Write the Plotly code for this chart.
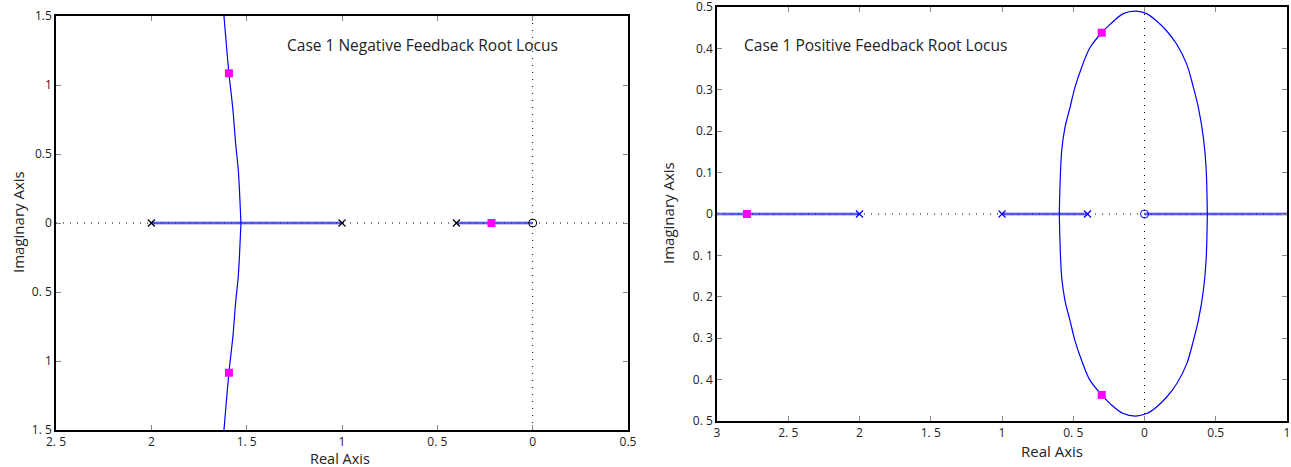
import plotly.graph_objects as go

W, H = 1291, 467

# ---------------- data ----------------
# Negative feedback (left)
neg_poles = [-2.0, -1.0, -0.4]
neg_zeros = [0.0]
neg_real_segments = [(-2.0, -1.0), (-0.4, 0.0)]
neg_upper_x = [-1.530, -1.537, -1.544, -1.558, -1.572, -1.593, -1.619]
neg_upper_y = [0.0, 0.215, 0.384, 0.578, 0.819, 1.085, 1.5]
neg_lower_x = [-1.530, -1.537, -1.544, -1.558, -1.572, -1.593, -1.619]
neg_lower_y = [0.0, -0.215, -0.384, -0.578, -0.819, -1.085, -1.5]
neg_sel_x = [-1.593, -1.593, -0.216]
neg_sel_y = [1.085, -1.085, 0.0]

# Positive feedback (right)
pos_poles = [-2.0, -1.0, -0.4]
pos_zeros = [0.0]
pos_real_segments = [(-3.0, -2.0), (-1.0, -0.4), (0.0, 1.0)]
ell_upper_x = [-0.598, -0.581, -0.558, -0.523, -0.488, -0.441, -0.382, -0.300,
               -0.242, -0.149, -0.060, 0.015, 0.085, 0.156, 0.226, 0.296,
               0.343, 0.378, 0.413, 0.432, 0.441]
ell_upper_y = [0.0, 0.153, 0.209, 0.257, 0.306, 0.354, 0.402, 0.438,
               0.458, 0.484, 0.490, 0.484, 0.466, 0.442, 0.410, 0.362,
               0.306, 0.257, 0.185, 0.113, 0.0]
ell_lower_x = [-0.598, -0.581, -0.558, -0.523, -0.488, -0.441, -0.382, -0.300,
               -0.242, -0.149, -0.060, 0.015, 0.085, 0.156, 0.226, 0.296,
               0.343, 0.378, 0.413, 0.432, 0.441]
ell_lower_y = [0.0, -0.153, -0.209, -0.257, -0.306, -0.354, -0.402, -0.437,
               -0.458, -0.482, -0.488, -0.482, -0.466, -0.442, -0.410, -0.362,
               -0.306, -0.257, -0.185, -0.113, 0.0]
pos_sel_x = [-0.300, -0.300, -2.79]
pos_sel_y = [0.438, -0.437, 0.0]

# tick labels (as printed, minus signs lost)
L_xticks = [-2.5, -2.0, -1.5, -1.0, -0.5, 0.0, 0.5]
L_xlabels = ["2. 5", "2", "1. 5", "1", "0. 5", "0", "0.5"]
L_yticks = [1.5, 1.0, 0.5, 0.0, -0.5, -1.0, -1.5]
L_ylabels = ["1.5", "1", "0.5", "0", "0. 5", "1", "1. 5"]
R_xticks = [-3.0, -2.5, -2.0, -1.5, -1.0, -0.5, 0.0, 0.5, 1.0]
R_xlabels = ["3", "2. 5", "2", "1. 5", "1", "0. 5", "0", "0.5", "1"]
R_yticks = [0.5, 0.4, 0.3, 0.2, 0.1, 0.0, -0.1, -0.2, -0.3, -0.4, -0.5]
R_ylabels = ["0.5", "0.4", "0.3", "0.2", "0.1", "0", "0. 1", "0. 2", "0. 3", "0. 4", "0. 5"]

FONT = "Open Sans"
BLUE = "#0000ff"
MAG = "#ff00ff"

fig = go.Figure()

def add_panel(xa, ya, xrange, yrange, segs, branches, poles, zeros, sel, pz_color):
    # dotted axes
    fig.add_trace(go.Scatter(x=[xrange[0], xrange[1]], y=[0, 0], mode="lines",
                             line=dict(color="black", width=1, dash="1px,6px"),
                             xaxis=xa, yaxis=ya, hoverinfo="skip"))
    fig.add_trace(go.Scatter(x=[0, 0], y=[yrange[0], yrange[1]], mode="lines",
                             line=dict(color="black", width=1, dash="1px,6px"),
                             xaxis=xa, yaxis=ya, hoverinfo="skip"))
    # real-axis locus segments
    for a, b in segs:
        fig.add_trace(go.Scatter(x=[a, b], y=[0, 0], mode="lines",
                                 line=dict(color="rgba(90,90,255,0.45)", width=3.5),
                                 xaxis=xa, yaxis=ya, hoverinfo="skip"))
        fig.add_trace(go.Scatter(x=[a, b], y=[0, 0], mode="lines",
                                 line=dict(color=BLUE, width=1),
                                 xaxis=xa, yaxis=ya, hoverinfo="skip"))
    # complex branches
    for bx, by in branches:
        fig.add_trace(go.Scatter(x=bx, y=by, mode="lines",
                                 line=dict(color=BLUE, width=1.2, shape="spline"),
                                 xaxis=xa, yaxis=ya, hoverinfo="skip"))
    # poles / zeros
    fig.add_trace(go.Scatter(x=poles, y=[0] * len(poles), mode="markers",
                             marker=dict(symbol="x-thin", size=7,
                                         line=dict(color=pz_color, width=1.2)),
                             xaxis=xa, yaxis=ya, hoverinfo="skip"))
    fig.add_trace(go.Scatter(x=zeros, y=[0] * len(zeros), mode="markers",
                             marker=dict(symbol="circle-open", size=8,
                                         color=pz_color, line=dict(color=pz_color, width=1)),
                             xaxis=xa, yaxis=ya, hoverinfo="skip"))
    # selected points
    fig.add_trace(go.Scatter(x=sel[0], y=sel[1], mode="markers",
                             marker=dict(symbol="square", size=8, color=MAG),
                             xaxis=xa, yaxis=ya, hoverinfo="skip"))

add_panel("x", "y", (-2.5, 0.5), (-1.5, 1.5), neg_real_segments,
          [(neg_upper_x, neg_upper_y), (neg_lower_x, neg_lower_y)],
          neg_poles, neg_zeros, (neg_sel_x, neg_sel_y), "black")
add_panel("x2", "y2", (-3, 1), (-0.5, 0.5), pos_real_segments,
          [(ell_upper_x, ell_upper_y), (ell_lower_x, ell_lower_y)],
          pos_poles, pos_zeros, (pos_sel_x, pos_sel_y), BLUE)

axis_common = dict(showgrid=False, zeroline=False, showline=True, linecolor="black",
                   linewidth=1.5, mirror="ticks", ticks="inside", ticklen=5,
                   tickcolor="#888888", tickwidth=1,
                   tickfont=dict(family=FONT, size=12, color="#222222"),
                   ticklabeloverflow="allow", automargin=False)

fig.update_layout(
    width=W, height=H,
    margin=dict(l=0, r=0, t=0, b=0),
    paper_bgcolor="white", plot_bgcolor="white",
    showlegend=False,
    xaxis=dict(domain=[56 / W, 628 / W], range=[-2.5, 0.5], tickvals=L_xticks,
               ticktext=L_xlabels, anchor="y", **axis_common),
    yaxis=dict(domain=[1 - 430 / H, 1 - 16 / H], range=[-1.5, 1.5], tickvals=L_yticks,
               ticktext=L_ylabels, anchor="x", **axis_common),
    xaxis2=dict(domain=[717 / W, 1287 / W], range=[-3, 1], tickvals=R_xticks,
                ticktext=R_xlabels, anchor="y2", **axis_common),
    yaxis2=dict(domain=[1 - 421 / H, 1 - 7 / H], range=[-0.5, 0.5], tickvals=R_yticks,
                ticktext=R_ylabels, anchor="x2", **axis_common),
)

def ann(text, x, y, size=13, angle=0, xanchor="center"):
    fig.add_annotation(text=text, x=x / W, y=1 - y / H, xref="paper", yref="paper",
                       showarrow=False, textangle=angle, xanchor=xanchor, yanchor="middle",
                       font=dict(family=FONT, size=size, color="#222222"))

ann("Imaginary Axis", 18, 222, size=15, angle=-90)
ann("Real Axis", 340, 458, size=14.5)
ann("Imaginary Axis", 668, 213, size=15, angle=-90)
ann("Real Axis", 1052, 451, size=15)
ann("Case 1 Negative Feedback Root Locus", 285, 45, size=15.5, xanchor="left")
ann("Case 1 Positive Feedback Root Locus", 742, 45, size=15.5, xanchor="left")

fig.write_html("out.html", config={"displayModeBar": False},
               post_script="document.body.style.margin='0';document.body.style.overflow='hidden';")
